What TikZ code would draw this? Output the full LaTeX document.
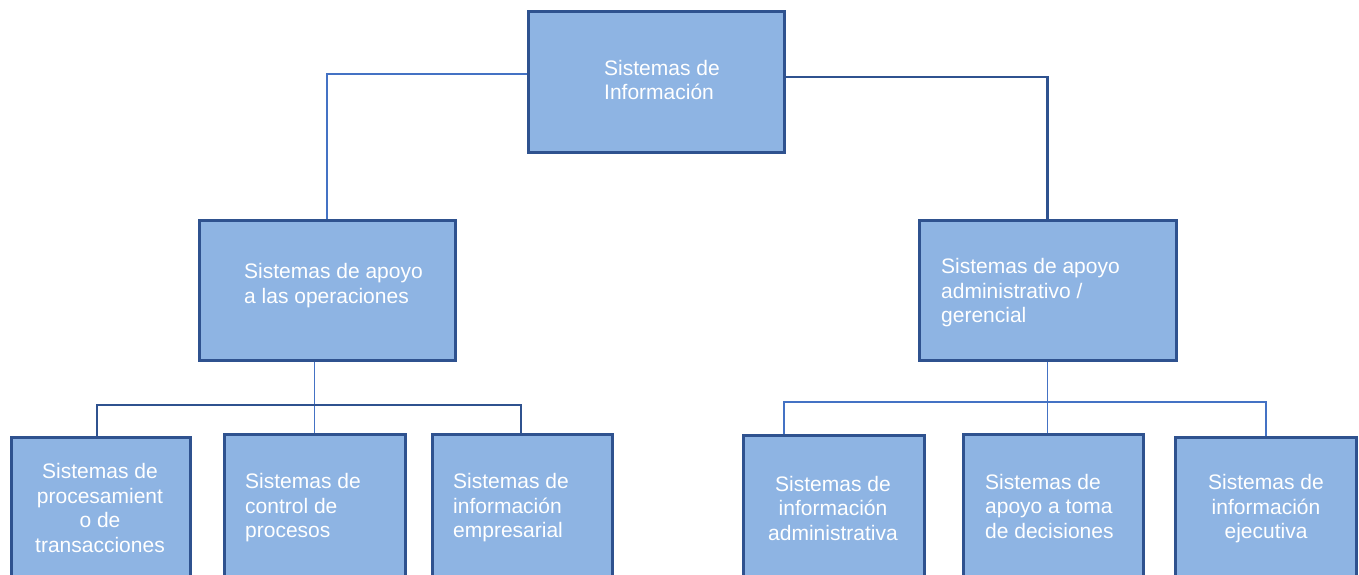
\documentclass[tikz,border=0pt]{standalone}
\usepackage{fontspec}
\setmainfont{Liberation Sans}
\definecolor{boxfill}{HTML}{8EB4E3}
\definecolor{boxline}{HTML}{2F528F}
\definecolor{thinline}{HTML}{4472C4}
\begin{document}
\begin{tikzpicture}[x=1pt,y=-1pt,
  box/.style={draw=boxline,fill=boxfill,line width=3pt,rectangle,inner sep=0pt},
  txt/.style={text=white,font=\fontsize{21}{24.5}\selectfont,inner sep=0pt},
  lconn/.style={draw=thinline,line width=1.1pt},
  hconn/.style={draw=boxline,line width=2.2pt}]
\useasboundingbox (0,0) rectangle (1359,574);
\clip (0,0) rectangle (1359,574);
% boxes
\node[box,minimum width=256,minimum height=141] (top) at (656,81.5) {};
\node[box,minimum width=256,minimum height=140] (lm) at (327,290) {};
\node[box,minimum width=257,minimum height=140] (rm) at (1047.5,290) {};
\node[box,minimum width=179,minimum height=160,anchor=north] (b1) at (100.5,436) {};
\node[box,minimum width=181,minimum height=160,anchor=north] (b2) at (314.5,433) {};
\node[box,minimum width=180,minimum height=160,anchor=north] (b3) at (522,433) {};
\node[box,minimum width=181,minimum height=160,anchor=north] (b4) at (833.5,434) {};
\node[box,minimum width=180,minimum height=160,anchor=north] (b5) at (1053,433) {};
\node[box,minimum width=181,minimum height=160,anchor=north] (b6) at (1265.5,436) {};
% texts
\node[txt,align=left,anchor=west] (ttop) at (604,80) {Sistemas de\\Información};
\node[txt,align=left,anchor=west] (tlm) at (244,285.5) {Sistemas de apoyo\\a las operaciones};
\node[txt,align=left,anchor=west] (trm) at (941,293) {Sistemas de apoyo\\administrativo /\\gerencial};
\node[txt,align=center] (tb1) at (100,508) {Sistemas de\\procesamient\\o de\\transacciones};
\node[txt,align=left,anchor=west] (tb2) at (245,508) {Sistemas de\\control de\\procesos};
\node[txt,align=left,anchor=west] (tb3) at (453,508) {Sistemas de\\información\\empresarial};
\node[txt,align=center] (tb4) at (833,508) {Sistemas de\\información\\administrativa};
\node[txt,align=left,anchor=west] (tb5) at (985,506) {Sistemas de\\apoyo a toma\\de decisiones};
\node[txt,align=center] (tb6) at (1266,509) {Sistemas de\\información\\ejecutiva};
% connectors
\draw[lconn] ([yshift=7.5pt]top.west) -| (lm.north);
\draw[hconn] ([yshift=4.5pt]top.east) -| (rm.north);
\coordinate (lbar) at (315,405);
\coordinate (b1top) at (97,436);
\coordinate (b3top) at (521,433);
\draw[lconn] (b2.north) -- (b2.north |- lm.south);
\draw[hconn] (b1top) |- (lbar) -| (b3top);
\coordinate (rbar) at (1048,402);
\coordinate (b4top) at (784,434);
\coordinate (b6top) at (1266,436);
\draw[lconn] (rm.south) -- (rm.south |- b5.north);
\draw[lconn] (b4top) |- (rbar) -| (b6top);
\end{tikzpicture}
\end{document}
